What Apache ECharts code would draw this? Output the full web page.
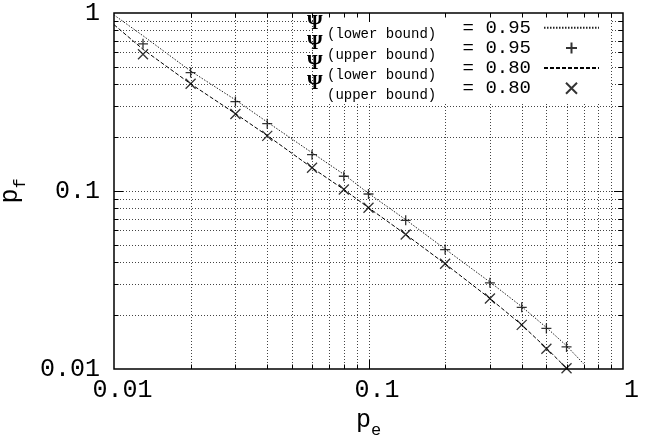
<!DOCTYPE html>
<html><head><meta charset="utf-8">
<script src="https://cdn.jsdelivr.net/npm/echarts@6/dist/echarts.min.js"></script>
<style>html,body{margin:0;padding:0;background:#fff}#c{width:653px;height:436px}</style>
</head><body><div id="c"></div>
<script>
// ---- axes ----
const X_MIN = 0.01, X_MAX = 1, Y_MIN = 0.01, Y_MAX = 1;
const xTickValues = [0.01, 0.1, 1];
const xTickLabels = ['0.01', '0.1', '1'];
const yTickValues = [0.01, 0.1, 1];
const yTickLabels = ['0.01', '0.1', '1'];
const xMinorValues = [0.02, 0.03, 0.04, 0.05, 0.06, 0.07, 0.08, 0.09, 0.2, 0.3, 0.4, 0.5, 0.6, 0.7, 0.8, 0.9];
const yMinorValues = [0.02, 0.03, 0.04, 0.05, 0.06, 0.07, 0.08, 0.09, 0.2, 0.3, 0.4, 0.5, 0.6, 0.7, 0.8, 0.9];

// ---- data ----
const lower95X = [0.01, 0.013, 0.02, 0.03, 0.04, 0.06, 0.08, 0.1, 0.14, 0.2, 0.3, 0.4, 0.5, 0.6, 0.7];
const lower95Y = [0.975, 0.745, 0.472, 0.325, 0.244, 0.164, 0.124, 0.097, 0.069, 0.0472, 0.0308, 0.0224, 0.0171, 0.0135, 0.0107];
const lower80X = [0.01, 0.013, 0.02, 0.03, 0.04, 0.06, 0.08, 0.1, 0.14, 0.2, 0.3, 0.4, 0.5, 0.6];
const lower80Y = [0.86, 0.625, 0.40, 0.272, 0.205, 0.135, 0.102, 0.0806, 0.057, 0.039, 0.0249, 0.0177, 0.0131, 0.0101];
const upperX = [0.013, 0.02, 0.03, 0.04, 0.06, 0.08, 0.1, 0.14, 0.2, 0.3, 0.4, 0.5, 0.6];
const upper95Y = [0.671, 0.463, 0.318, 0.239, 0.160, 0.121, 0.0962, 0.0684, 0.0469, 0.0305, 0.0222, 0.0169, 0.0133];
const upper80Y = [0.587, 0.40, 0.271, 0.204, 0.135, 0.102, 0.0806, 0.057, 0.039, 0.0249, 0.0177, 0.0130, 0.0101];

// ---- legend texts ----
const seriesNames = ['lo95', 'up95', 'lo80', 'up80'];
const legendSub = ['(lower bound)', '(upper bound)', '(lower bound)', '(upper bound)'];
const legendEq = ['= 0.95', '= 0.95', '= 0.80', '= 0.80'];

const zip = (xs, ys) => xs.map((x, i) => [x, ys[i]]);
const MONO = 'Liberation Mono';

const allX = xMinorValues.concat([0.1]);
const allY = yMinorValues.concat([0.1]);
const majors = new Set([0.01, 0.1, 1]);
const GRID_STYLE = {stroke: '#444', lineWidth: 1, lineDash: [1, 2]};

function vGrid(params, api) {
  const v = api.value(0);
  const b = api.coord([v, Y_MIN]), t = api.coord([v, Y_MAX]);
  const x = Math.round(b[0]) + 0.5;
  return {type: 'line', shape: {x1: x, y1: b[1], x2: x, y2: t[1]}, style: GRID_STYLE};
}
function hGrid(params, api) {
  const v = api.value(1);
  const l = api.coord([X_MIN, v]), r = api.coord([X_MAX, v]);
  const y = Math.round(l[1]) + 0.5;
  return {type: 'line', shape: {x1: l[0], y1: y, x2: r[0], y2: y}, style: GRID_STYLE};
}
function vTicks(params, api) {
  const v = api.value(0);
  const b = api.coord([v, Y_MIN]), t = api.coord([v, Y_MAX]);
  const x = Math.round(b[0]) + 0.5;
  const len = majors.has(v) ? 9 : 4.5;
  const st = {stroke: '#000', lineWidth: 1};
  return {type: 'group', children: [
    {type: 'line', shape: {x1: x, y1: b[1], x2: x, y2: b[1] - len}, style: st},
    {type: 'line', shape: {x1: x, y1: t[1], x2: x, y2: t[1] + len}, style: st}
  ]};
}
function hTicks(params, api) {
  const v = api.value(1);
  const l = api.coord([X_MIN, v]), r = api.coord([X_MAX, v]);
  const y = Math.round(l[1]) + 0.5;
  const len = majors.has(v) ? 9 : 4.5;
  const st = {stroke: '#000', lineWidth: 1};
  return {type: 'group', children: [
    {type: 'line', shape: {x1: l[0], y1: y, x2: l[0] + len, y2: y}, style: st},
    {type: 'line', shape: {x1: r[0], y1: y, x2: r[0] - len, y2: y}, style: st}
  ]};
}

const labelFor = (vals, labels) => v => {
  for (let i = 0; i < vals.length; i++) if (Math.abs(Math.log10(v) - Math.log10(vals[i])) < 1e-6) return labels[i];
  return '';
};

const nameRich = {
  p: {fontFamily: MONO, fontSize: 25, lineHeight: 31, verticalAlign: 'top', color: '#000'},
  s: {fontFamily: MONO, fontSize: 17, lineHeight: 31, verticalAlign: 'bottom', color: '#000'}
};

// legend "Ψ(subscript)" labels, one per legend row
const ROW0 = 27.7, ROW_STEP = 20.2;
const legendGraphics = [{type: 'rect', left: 313, top: 14, z: 3, silent: true,
  shape: {width: 297, height: 90}, style: {fill: '#fff'}}];
seriesNames.forEach((n, i) => {
  const cy = ROW0 + ROW_STEP * i;
  legendGraphics.push({type: 'text', x: 307, y: cy - 4, z: 5, silent: true,
    style: {text: 'Ψ', font: 'bold 20px "Liberation Serif"', fill: '#000', align: 'left', verticalAlign: 'middle'}});
  legendGraphics.push({type: 'text', x: 327, y: cy + 7, z: 5, silent: true,
    style: {text: legendSub[i], font: '14px "Liberation Mono"', fill: '#000', align: 'left', verticalAlign: 'middle'}});
});

const chart = echarts.init(document.getElementById('c'), null, {renderer: 'canvas'});
chart.setOption({
  animation: false,
  backgroundColor: '#fff',
  grid: {left: 114, right: 30, top: 13, bottom: 67, containLabel: false, outerBoundsMode: 'none',
    show: true, borderColor: '#000', borderWidth: 1.5, backgroundColor: 'transparent'},
  xAxis: {
    type: 'log', logBase: 10, min: X_MIN, max: X_MAX,
    axisLine: {show: false}, axisTick: {show: false}, splitLine: {show: false}, minorTick: {show: false},
    axisLabel: {fontFamily: MONO, fontSize: 25, color: '#000', margin: 9, padding: [0, 0, 0, 17],
      formatter: labelFor(xTickValues, xTickLabels)},
    name: '{p|p}{s|e}', nameLocation: 'middle', nameGap: 38,
    nameTextStyle: {lineHeight: 31, rich: nameRich}
  },
  yAxis: {
    type: 'log', logBase: 10, min: Y_MIN, max: Y_MAX,
    axisLine: {show: false}, axisTick: {show: false}, splitLine: {show: false}, minorTick: {show: false},
    axisLabel: {fontFamily: MONO, fontSize: 25, color: '#000', margin: 14,
      formatter: labelFor(yTickValues, yTickLabels)},
    name: '{p|p}{s|f}', nameLocation: 'middle', nameGap: 77,
    nameTextStyle: {lineHeight: 31, rich: nameRich}
  },
  graphic: legendGraphics,
  legend: {
    orient: 'vertical', align: 'right', right: 53, top: ROW0 - 10, padding: 0, itemGap: ROW_STEP - 20,
    itemWidth: 55, itemHeight: 11, selectedMode: false, z: 4,
    data: [
      {name: 'lo95', itemStyle: {opacity: 0}},
      {name: 'up95'},
      {name: 'lo80', itemStyle: {opacity: 0}},
      {name: 'up80'}
    ],
    formatter: function (name) { return legendEq[seriesNames.indexOf(name)]; },
    textStyle: {color: '#000', fontFamily: MONO, fontSize: 19, lineHeight: 20, padding: [0, 8, 0, 0]}
  },
  series: [
    {type: 'custom', coordinateSystem: 'cartesian2d', silent: true, z: 1, renderItem: vGrid,
      data: allX.map(v => [v, 0.1])},
    {type: 'custom', coordinateSystem: 'cartesian2d', silent: true, z: 1, renderItem: hGrid,
      data: allY.map(v => [0.1, v])},
    {type: 'custom', coordinateSystem: 'cartesian2d', silent: true, z: 6, renderItem: vTicks,
      data: allX.map(v => [v, 0.1])},
    {type: 'custom', coordinateSystem: 'cartesian2d', silent: true, z: 6, renderItem: hTicks,
      data: allY.map(v => [0.1, v])},
    {name: 'lo95', type: 'line', symbol: 'none', silent: true, z: 2, color: '#222',
      lineStyle: {color: '#222', width: 1, type: [1.5, 1.5]}, data: zip(lower95X, lower95Y)},
    {name: 'up95', type: 'scatter', symbol: 'path://M0,5L10,5M5,0L5,10', symbolSize: 10, silent: true, z: 2,
      itemStyle: {color: 'rgba(0,0,0,0)', borderColor: '#000', borderWidth: 1.3}, data: zip(upperX, upper95Y)},
    {name: 'lo80', type: 'line', symbol: 'none', silent: true, z: 2, color: '#000',
      lineStyle: {color: '#000', width: 1, type: [4, 2]}, data: zip(lower80X, lower80Y)},
    {name: 'up80', type: 'scatter', symbol: 'path://M0,0L10,10M10,0L0,10', symbolSize: 10, silent: true, z: 2,
      itemStyle: {color: 'rgba(0,0,0,0)', borderColor: '#000', borderWidth: 1.3}, data: zip(upperX, upper80Y)}
  ]
});
</script></body></html>
